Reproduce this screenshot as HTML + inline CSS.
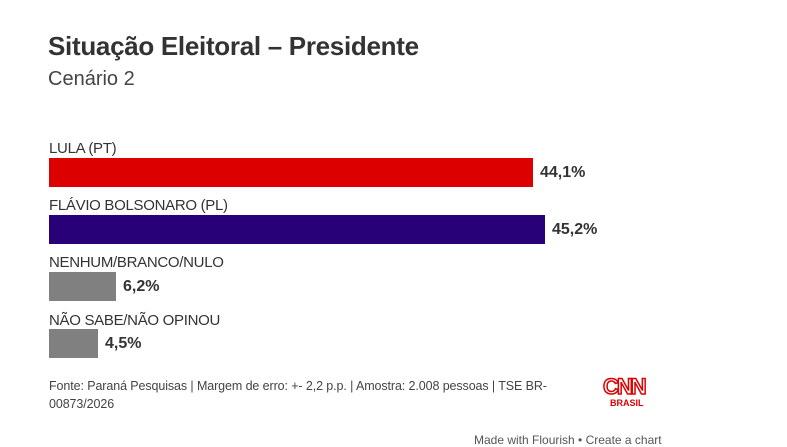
<!DOCTYPE html>
<html><head><meta charset="utf-8"><style>
body{margin:0;width:787px;height:438px;overflow:hidden;background:#fff;font-family:"Liberation Sans",sans-serif;color:#333;position:relative}
.a{position:absolute;white-space:nowrap}
.lab{font-size:15px;color:#333;letter-spacing:-0.3px}
.bar{position:absolute;left:49px;height:29px}
.val{font-size:16px;font-weight:bold;color:#333}
</style></head><body>
<div class="a" style="left:48px;top:31px;font-size:26px;font-weight:bold;color:#333;letter-spacing:-0.3px">Situação Eleitoral – Presidente</div>
<div class="a" style="left:48px;top:68px;font-size:20px;color:#444">Cenário 2</div>

<div class="a lab" style="left:49px;top:140px">LULA (PT)</div>
<div class="bar" style="top:158px;width:484px;background:#dc0000"></div>
<div class="a val" style="left:540px;top:164px">44,1%</div>

<div class="a lab" style="left:49px;top:197px">FLÁVIO BOLSONARO (PL)</div>
<div class="bar" style="top:215px;width:496px;background:#280078"></div>
<div class="a val" style="left:552px;top:221px">45,2%</div>

<div class="a lab" style="left:49px;top:254px">NENHUM/BRANCO/NULO</div>
<div class="bar" style="top:272px;width:67px;background:#808080"></div>
<div class="a val" style="left:123px;top:278px">6,2%</div>

<div class="a lab" style="left:49px;top:312px">NÃO SABE/NÃO OPINOU</div>
<div class="bar" style="top:329px;width:49px;background:#808080"></div>
<div class="a val" style="left:105px;top:335px">4,5%</div>

<div class="a" style="left:49px;top:377px;font-size:12.5px;color:#444;letter-spacing:-0.1px;line-height:18px">Fonte: Paraná Pesquisas | Margem de erro: +- 2,2 p.p. | Amostra: 2.008 pessoas | TSE BR-<br>00873/2026</div>
<div class="a" style="left:603px;top:374px;font-size:22px;font-weight:bold;color:#fff;-webkit-text-stroke:1.5px #d00;letter-spacing:-2px">CNN</div>
<div class="a" style="left:610px;top:398px;font-size:9px;font-weight:bold;color:#d00">BRASIL</div>
<div class="a" style="left:474px;top:433px;font-size:12px;color:#555">Made with Flourish • Create a chart</div>
</body></html>
